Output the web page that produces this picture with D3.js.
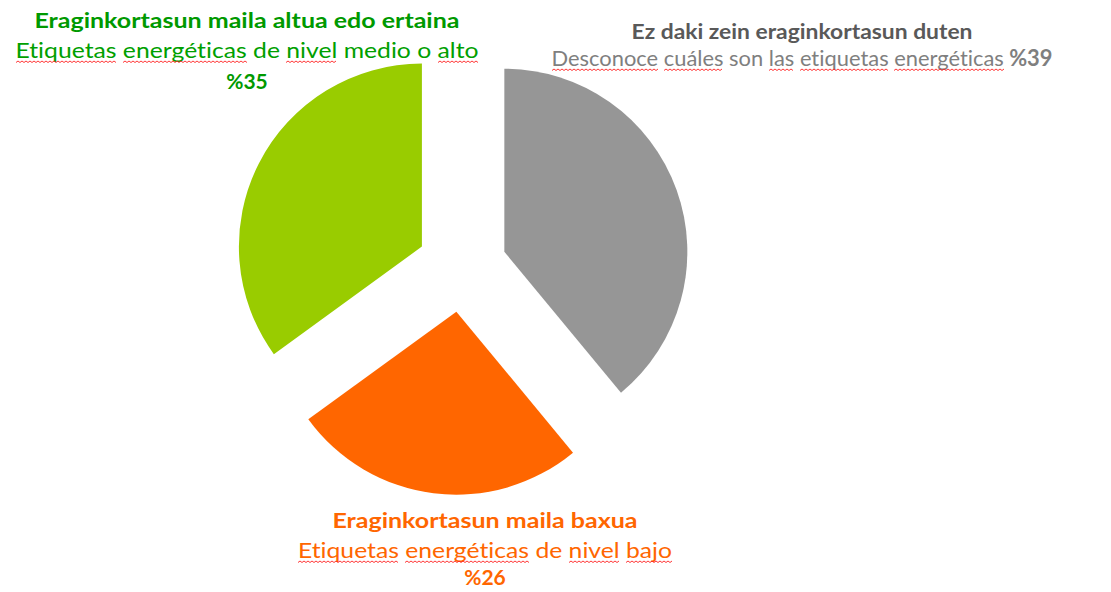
<!DOCTYPE html>
<html>
<head>
<meta charset="utf-8">
<script src="https://cdn.jsdelivr.net/npm/d3@7"></script>
<style>
  html, body { margin: 0; padding: 0; background: #fff; }
  svg { display: block; }
  text { font-family: Lato, "Open Sans", sans-serif; font-variant-ligatures: none; }
</style>
</head>
<body>
<svg id="chart" width="1111" height="592"></svg>
<script>
// data, clockwise from 12 o'clock
const categories = ["unknown", "low", "mediumHigh"];
const values = [39, 26, 35];
const colors = ["#969696", "#ff6600", "#99cc00"];
const titles = [
  "Ez daki zein eraginkortasun duten",
  "Eraginkortasun maila baxua",
  "Eraginkortasun maila altua edo ertaina"
];
const subtitles = [
  "Desconoce cuáles son las etiquetas energéticas",
  "Etiquetas energéticas de nivel bajo",
  "Etiquetas energéticas de nivel medio o alto"
];
// words flagged by the spell checker (red squiggle)
const flagged = ["Desconoce", "cuáles", "las", "etiquetas", "energéticas", "Etiquetas", "nivel", "alto", "bajo"];

const svg = d3.select("#chart");
const cx = 462, cy = 267, radius = 183, explode = 45;

const pie = d3.pie().sort(null).value(d => d);
const arc = d3.arc().innerRadius(0).outerRadius(radius);
const arcs = pie(values);

const g = svg.append("g").attr("transform", `translate(${cx},${cy})`);
g.selectAll("path")
  .data(arcs)
  .enter().append("path")
    .attr("fill", (d, i) => colors[i])
    .attr("transform", d => {
      let a = (d.startAngle + d.endAngle) / 2;
      return `translate(${explode * Math.sin(a)},${-explode * Math.cos(a)})`;
    })
    .attr("d", arc);

// label layout per slice
const layout = [
  { x: 802, ty: 39, sy: 66, py: null, tw: 341, sw: 501, tc: "#595959", sc: "#7f7f7f", inline: true },
  { x: 485, ty: 528, sy: 558, py: 585, tw: 305, sw: 374, tc: "#ff6600", sc: "#ff6600", inline: false },
  { x: 247, ty: 28, sy: 58, py: 89, tw: 425, sw: 463, tc: "#009900", sc: "#00a000", inline: false }
];

const labels = svg.append("g");

function squiggle(x0, x1, y) {
  let p = `M${x0},${y}`, up = true;
  for (let x = x0 + 2; x <= x1; x += 2) {
    p += `L${x},${y + (up ? -1.5 : 0)}`;
    up = !up;
  }
  return p;
}

arcs.forEach((d, i) => {
  const L = layout[i];
  const pct = "%" + values[i];

  labels.append("text")
    .attr("x", L.x).attr("y", L.ty)
    .attr("text-anchor", "middle")
    .attr("font-size", 21).attr("font-weight", "bold")
    .attr("fill", L.tc)
    .attr("textLength", L.tw).attr("lengthAdjust", "spacingAndGlyphs")
    .text(titles[i]);

  const sub = labels.append("text")
    .attr("x", L.x).attr("y", L.sy)
    .attr("text-anchor", "middle")
    .attr("font-size", 22)
    .attr("fill", L.sc)
    .attr("textLength", L.sw).attr("lengthAdjust", "spacingAndGlyphs");
  sub.append("tspan").text(subtitles[i]);
  if (L.inline) sub.append("tspan").attr("font-weight", "bold").text(" " + pct);

  // red wavy underline under flagged words
  const node = sub.node();
  const full = subtitles[i];
  let pos = 0;
  full.split(" ").forEach(w => {
    if (flagged.includes(w)) {
      const x0 = node.getStartPositionOfChar(pos).x;
      const x1 = node.getEndPositionOfChar(pos + w.length - 1).x;
      labels.append("path")
        .attr("d", squiggle(Math.round(x0), Math.round(x1), L.sy + 4.5))
        .attr("fill", "none").attr("stroke", "#ff2020").attr("stroke-width", 0.9);
    }
    pos += w.length + 1;
  });

  if (!L.inline) {
    labels.append("text")
      .attr("x", L.x).attr("y", L.py)
      .attr("text-anchor", "middle")
      .attr("font-size", 21).attr("font-weight", "bold")
      .attr("fill", L.tc)
      .text(pct);
  }
});
</script>
</body>
</html>
